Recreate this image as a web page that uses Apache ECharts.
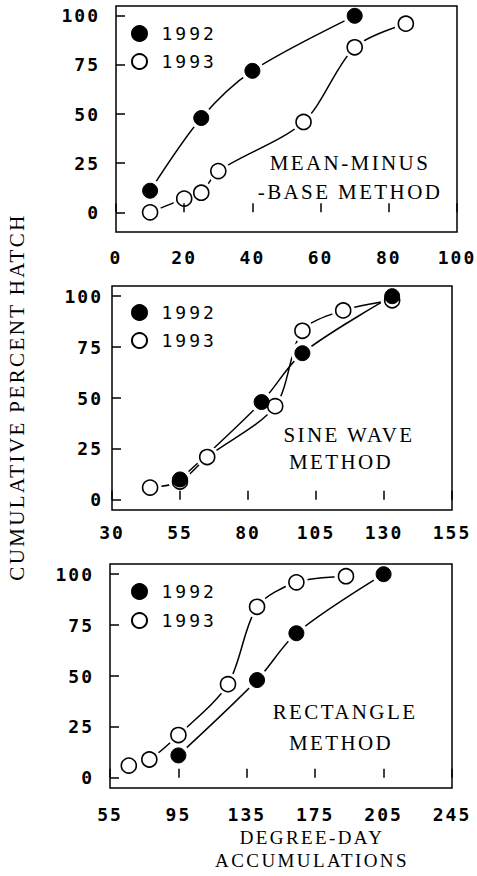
<!DOCTYPE html>
<html><head><meta charset="utf-8">
<script src="https://cdn.jsdelivr.net/npm/echarts@6/dist/echarts.min.js"></script>
<style>
html,body{margin:0;padding:0;background:#fff}
#c{width:477px;height:876px}
text[style*="Liberation Serif"]{letter-spacing:2.4px}
text[style*="DejaVu Sans Mono"]{letter-spacing:3px}
text[style*="bold"][style*="DejaVu Sans Mono"]{letter-spacing:2px}
</style></head><body><div id="c"></div>
<script>
// ---- data ----
const yTickLabels = [0, 25, 50, 75, 100];
const seriesNames = ['1992', '1993'];

// Mean-minus-base method
const mmbX1992 = [10, 25, 40, 70];
const mmbY1992 = [11, 48, 72, 100];
const mmbX1993 = [10, 20, 25, 30, 55, 70, 85];
const mmbY1993 = [0, 7, 10, 21, 46, 84, 96];
const mmbXTicks = ['0', '20', '40', '60', '80', '100'];

// Sine wave method
const sineX1992 = [55, 85, 100, 133];
const sineY1992 = [10, 48, 72, 100];
const sineX1993 = [44, 55, 65, 90, 100, 115, 133];
const sineY1993 = [6, 9, 21, 46, 83, 93, 98];
const sineXTicks = ['30', '55', '80', '105', '130', '155'];

// Rectangle method
const rectX1992 = [95, 141, 164, 215];
const rectY1992 = [11, 48, 71, 100];
const rectX1993 = [66, 78, 95, 124, 141, 164, 193];
const rectY1993 = [6, 9, 21, 46, 84, 96, 99];
const rectXTicks = ['55', '95', '135', '175', '205', '245'];

// ---- layout ----
const panels = [
  {x92: mmbX1992, y92: mmbY1992, x93: mmbX1993, y93: mmbY1993, ticks: mmbXTicks, origin: 0, step: 20,
   grid: {left: 116, top: 6, width: 341, height: 226}, ymin: -10, ylm: 16, xlm: 16,
   legendTop: 24.5, legendGap: 10},
  {x92: sineX1992, y92: sineY1992, x93: sineX1993, y93: sineY1993, ticks: sineXTicks, origin: 30, step: 25,
   grid: {left: 112, top: 286, width: 340, height: 224}, ymin: -5, ylm: 9, xlm: 13,
   legendTop: 303.5, legendGap: 10},
  {x92: rectX1992, y92: rectY1992, x93: rectX1993, y93: rectY1993, ticks: rectXTicks, origin: 55, step: 40,
   grid: {left: 110, top: 564, width: 342, height: 224}, ymin: -5, ylm: 16, xlm: 17,
   legendTop: 582.5, legendGap: 11}
];

const tickFont = {fontFamily: 'DejaVu Sans Mono', fontWeight: 'bold', fontSize: 18, color: '#000'};
const grids = [], xAxes = [], yAxes = [], series = [], legends = [];

panels.forEach((p, i) => {
  grids.push(Object.assign({show: true, borderColor: '#000', borderWidth: 1.5, backgroundColor: 'transparent', z: 10}, p.grid));
  xAxes.push({
    type: 'value', gridIndex: i, min: 0, max: p.step * 5, interval: p.step, z: 5,
    axisLine: {show: false}, splitLine: {show: false},
    axisTick: {show: true, inside: true, length: 9, lineStyle: {color: '#000', width: 1.5}},
    axisLabel: Object.assign({margin: p.xlm, formatter: v => p.ticks[Math.round(v / p.step)] || ''}, tickFont)
  });
  yAxes.push({
    type: 'value', gridIndex: i, min: p.ymin, max: 105, z: 5,
    axisLine: {show: false}, splitLine: {show: false},
    axisTick: {show: true, inside: true, length: 9, customValues: yTickLabels, lineStyle: {color: '#000', width: 1.5}},
    axisLabel: Object.assign({margin: p.ylm, customValues: yTickLabels, formatter: v => String(v)}, tickFont)
  });
  const d92 = p.x92.map((x, k) => [x - p.origin, p.y92[k]]);
  const d93 = p.x93.map((x, k) => [x - p.origin, p.y93[k]]);
  [d92, d93].forEach((d, s) => {
    series.push({type: 'line', name: 'curve' + seriesNames[s], xAxisIndex: i, yAxisIndex: i, data: d,
      showSymbol: false, smooth: 0.3, z: 2, silent: true,
      lineStyle: {color: '#000', width: 1.5}});
  });
  [d92, d93].forEach((d, s) => {
    series.push({type: 'scatter', name: 'halo' + seriesNames[s], xAxisIndex: i, yAxisIndex: i, data: d,
      symbol: 'circle', symbolSize: 23, z: 3, silent: true,
      itemStyle: {color: '#fff', borderWidth: 0, opacity: 1}});
  });
  series.push({type: 'scatter', name: '1993', xAxisIndex: i, yAxisIndex: i, data: d93,
    symbol: 'circle', symbolSize: 15, z: 4,
    itemStyle: {color: '#fff', borderColor: '#000', borderWidth: 1.6, opacity: 1}});
  series.push({type: 'scatter', name: '1992', xAxisIndex: i, yAxisIndex: i, data: d92,
    symbol: 'circle', symbolSize: 15, z: 5,
    itemStyle: {color: '#000', borderColor: '#000', borderWidth: 1, opacity: 1}});
  legends.push({
    orient: 'vertical', left: 131, top: p.legendTop, padding: 0, itemWidth: 34, itemHeight: 15,
    itemGap: p.legendGap, icon: 'circle', selectedMode: false, data: seriesNames, z: 12,
    textStyle: {fontFamily: 'DejaVu Sans Mono', fontSize: 18, color: '#000', lineHeight: 15}
  });
});

const serif = '21px "Liberation Serif"';
function txt(t, x, y, font, rot) {
  return {type: 'text', x: x, y: y, rotation: rot || 0, z: 20,
    style: {text: t, font: font || serif, fill: '#000', align: 'center', verticalAlign: 'middle',
      textAlign: 'center', textVerticalAlign: 'middle'}};
}

const chart = echarts.init(document.getElementById('c'), null, {renderer: 'svg', width: 477, height: 876});
chart.setOption({
  backgroundColor: '#fff',
  animation: false,
  grid: grids, xAxis: xAxes, yAxis: yAxes, series: series, legend: legends,
  graphic: [
    txt('MEAN-MINUS', 350, 163),
    txt('-BASE METHOD', 350, 192),
    txt('SINE WAVE', 349, 435),
    txt('METHOD', 341, 462),
    txt('RECTANGLE', 345, 712),
    txt('METHOD', 341, 743),
    txt('DEGREE-DAY', 312, 837, '19px "Liberation Serif"'),
    txt('ACCUMULATIONS', 312, 860, '19px "Liberation Serif"'),
    txt('CUMULATIVE PERCENT HATCH', 17, 397, serif, Math.PI / 2)
  ]
});
</script></body></html>
